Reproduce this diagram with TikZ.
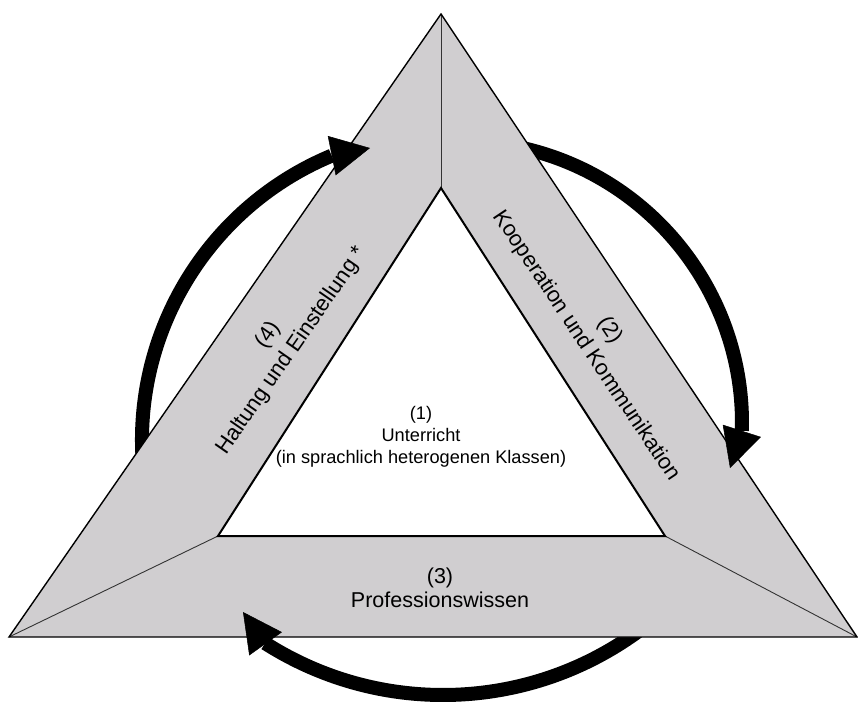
\documentclass[tikz,border=0pt]{standalone}
\usepackage{fontspec}
\setmainfont{Liberation Sans}
\usetikzlibrary{arrows.meta}
\definecolor{bandgray}{RGB}{208,206,208}
\begin{document}
\begin{tikzpicture}[x=1pt,y=-1pt,
  cyclearc/.style={line width=14pt},
  cyclehead/.style={line width=0.5pt, -{Triangle[length=39pt,width=40pt]}},
  triedge/.style={line width=1.4pt, line join=miter},
  inneredge/.style={line width=2pt, line join=miter},
  seam/.style={line width=0.9pt, black!80},
  midtext/.style={font=\fontsize{18.2}{22}\selectfont, align=center, inner sep=0pt},
  basetext/.style={font=\fontsize{21.5}{24}\selectfont, align=center, inner sep=0pt},
  bandtext/.style={font=\fontsize{22}{28.5}\selectfont, align=center, inner sep=0pt}]
\useasboundingbox (0,0) rectangle (858,704);

% corners of the outer and inner triangles
\coordinate (A)  at (441,14);
\coordinate (BL) at (9,637);
\coordinate (BR) at (857,637);
\coordinate (iA) at (441,188);
\coordinate (iL) at (218,536);
\coordinate (iR) at (665,536);

% centres of the three cycle arcs
\coordinate (c4) at (450,440);
\coordinate (c2) at (460,423);
\coordinate (c3) at (443,364);

% cycle arcs, running behind the triangle
\draw[cyclearc] (c4) ++(172:308) arc[start angle=172, end angle=247.4, radius=308];
\draw[cyclearc] (c2) ++(280:282) arc[start angle=280, end angle=361.6, radius=282];
\draw[cyclearc] (c3) ++(50:331)  arc[start angle=50,  end angle=122.5, radius=331];

% the triangle with its three bands
\fill[bandgray] (A) -- (BR) -- (BL) -- cycle;
\fill[white] (iA) -- (iR) -- (iL) -- cycle;
\draw[seam] (A) -- (iA);
\draw[seam] (BL) -- (iL);
\draw[seam] (BR) -- (iR);
\draw[triedge] (A) -- (BR) -- (BL) -- cycle;
\draw[inneredge] (iA) -- (iR) -- (iL) -- cycle;

% arrow heads on top of the triangle
\path (c4) ++(247.4:308) coordinate (tail4);
\path (c2) ++(361.6:282) coordinate (tail2);
\path (c3) ++(122.5:331) coordinate (tail3);
\coordinate (tip4) at (370,148);
\coordinate (tip2) at (730,468);
\coordinate (tip3) at (243,612);
\draw[cyclehead] (tail4) -- (tip4);
\draw[cyclehead] (tail2) -- (tip2);
\draw[cyclehead] (tail3) -- (tip3);

% labels
\node[midtext] (unterricht) at (421,437) {(1)\\Unterricht\\(in sprachlich heterogenen Klassen)};
\node[basetext] (prof) at (440,588) {(3)\\Professionswissen};
\node[bandtext, rotate=55.3] (haltung) at (280,343) {(4)\\Haltung und Einstellung *};
\node[bandtext, rotate=-56.3] (koop) at (598,338) {(2)\\Kooperation und Kommunikation};
\end{tikzpicture}
\end{document}
